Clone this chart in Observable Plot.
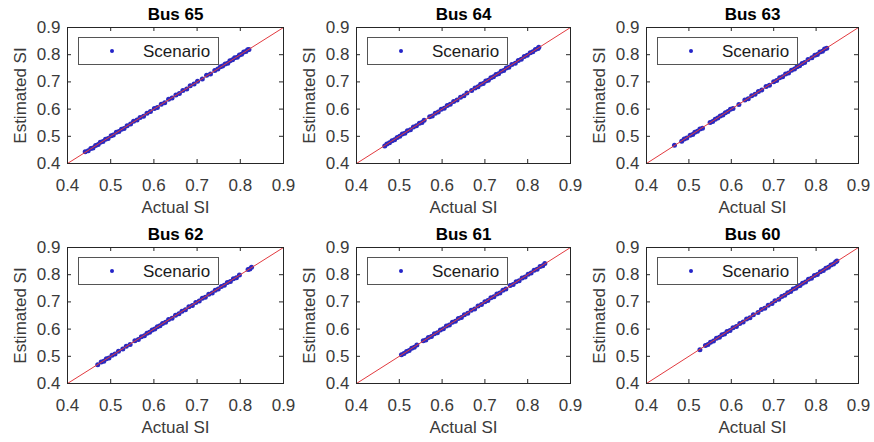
<!DOCTYPE html>
<html>
<head>
<meta charset="utf-8">
<script src="https://cdn.jsdelivr.net/npm/d3@7"></script>
<script src="https://cdn.jsdelivr.net/npm/@observablehq/plot@0.6"></script>
<style>
  body { margin: 0; background: #fff; }
  #root { position: relative; width: 874px; height: 442px; font-family: "Liberation Sans", Arial, sans-serif; overflow: hidden; }
  .panel { position: absolute; }
  .legend { position: absolute; box-sizing: border-box; border: 1px solid #555; background: #fff; }
  .legend .dot { position: absolute; width: 4px; height: 4px; border-radius: 50%; background: #2424c8; }
  .legend .lab { position: absolute; font-size: 17px; color: #1a1a1a; white-space: nowrap; line-height: 1; }
</style>
</head>
<body>
<div id="root"></div>
<script>
// ---------- data ----------
const titles = ["Bus 65", "Bus 64", "Bus 63", "Bus 62", "Bus 61", "Bus 60"];
const xTicks = [0.4, 0.5, 0.6, 0.7, 0.8, 0.9];
const yTicks = [0.4, 0.5, 0.6, 0.7, 0.8, 0.9];
const diagonal = [0.4, 0.9];
const legendLabel = "Scenario";
const xLabel = "Actual SI";
const yLabel = "Estimated SI";

// [actual, estimated]
const bus65 = [[0.441,0.443],[0.448,0.447],[0.454,0.455],[0.459,0.457],[0.465,0.466],[0.471,0.470],[0.476,0.478],[0.482,0.481],[0.488,0.489],[0.494,0.492],[0.501,0.502],[0.506,0.505],[0.513,0.515],[0.519,0.518],[0.525,0.526],[0.531,0.529],[0.538,0.539],[0.546,0.545],[0.553,0.555],[0.561,0.560],[0.568,0.569],[0.576,0.574],[0.584,0.585],[0.592,0.591],[0.601,0.602],[0.608,0.606],[0.617,0.618],[0.625,0.623],[0.634,0.636],[0.642,0.641],[0.651,0.652],[0.659,0.657],[0.667,0.668],[0.676,0.674],[0.684,0.686],[0.693,0.692],[0.701,0.702],[0.712,0.711],[0.722,0.724],[0.731,0.729],[0.741,0.742],[0.748,0.747],[0.754,0.756],[0.759,0.758],[0.765,0.766],[0.771,0.769],[0.776,0.778],[0.782,0.781],[0.787,0.789],[0.793,0.791],[0.798,0.799],[0.803,0.802],[0.808,0.810],[0.813,0.812],[0.817,0.818],[0.820,0.819]];
const bus64 = [[0.466,0.464],[0.471,0.472],[0.477,0.476],[0.483,0.484],[0.489,0.487],[0.495,0.496],[0.501,0.500],[0.507,0.508],[0.513,0.511],[0.519,0.520],[0.526,0.524],[0.533,0.534],[0.540,0.539],[0.547,0.548],[0.553,0.551],[0.558,0.559],[0.571,0.572],[0.577,0.575],[0.584,0.585],[0.591,0.589],[0.598,0.599],[0.605,0.603],[0.612,0.613],[0.619,0.618],[0.627,0.628],[0.635,0.633],[0.643,0.644],[0.651,0.649],[0.658,0.659],[0.669,0.668],[0.677,0.678],[0.684,0.682],[0.690,0.691],[0.696,0.694],[0.702,0.703],[0.708,0.706],[0.714,0.715],[0.720,0.719],[0.726,0.727],[0.732,0.730],[0.738,0.739],[0.744,0.742],[0.750,0.751],[0.756,0.754],[0.763,0.764],[0.771,0.769],[0.778,0.779],[0.785,0.783],[0.792,0.793],[0.799,0.798],[0.806,0.807],[0.812,0.811],[0.818,0.819],[0.824,0.823],[0.826,0.827]];
const bus63 = [[0.466,0.467],[0.483,0.482],[0.489,0.490],[0.495,0.494],[0.503,0.504],[0.509,0.507],[0.514,0.515],[0.520,0.519],[0.526,0.527],[0.532,0.530],[0.550,0.551],[0.556,0.554],[0.562,0.563],[0.568,0.567],[0.574,0.575],[0.580,0.578],[0.586,0.587],[0.592,0.591],[0.598,0.599],[0.604,0.602],[0.618,0.617],[0.632,0.633],[0.640,0.638],[0.648,0.649],[0.656,0.655],[0.664,0.665],[0.672,0.670],[0.682,0.683],[0.690,0.688],[0.700,0.701],[0.707,0.705],[0.714,0.715],[0.721,0.719],[0.728,0.729],[0.735,0.733],[0.742,0.743],[0.749,0.747],[0.755,0.756],[0.761,0.759],[0.767,0.768],[0.773,0.771],[0.781,0.782],[0.790,0.789],[0.797,0.798],[0.803,0.801],[0.809,0.810],[0.815,0.813],[0.820,0.821],[0.825,0.824]];
const bus62 = [[0.470,0.469],[0.478,0.479],[0.484,0.482],[0.490,0.491],[0.496,0.494],[0.503,0.504],[0.510,0.508],[0.518,0.519],[0.528,0.527],[0.536,0.537],[0.545,0.543],[0.556,0.557],[0.564,0.562],[0.571,0.572],[0.578,0.576],[0.584,0.585],[0.590,0.588],[0.596,0.597],[0.602,0.600],[0.608,0.609],[0.614,0.612],[0.620,0.621],[0.627,0.625],[0.634,0.635],[0.642,0.640],[0.650,0.651],[0.658,0.656],[0.665,0.666],[0.673,0.671],[0.681,0.682],[0.689,0.687],[0.697,0.698],[0.705,0.703],[0.712,0.713],[0.719,0.717],[0.727,0.728],[0.735,0.733],[0.742,0.743],[0.749,0.747],[0.756,0.757],[0.763,0.761],[0.770,0.771],[0.777,0.775],[0.784,0.785],[0.791,0.789],[0.798,0.799],[0.818,0.819],[0.822,0.821],[0.826,0.827]];
const bus61 = [[0.505,0.506],[0.511,0.510],[0.517,0.518],[0.523,0.521],[0.529,0.530],[0.535,0.533],[0.541,0.542],[0.556,0.557],[0.562,0.560],[0.568,0.569],[0.575,0.573],[0.582,0.583],[0.589,0.587],[0.596,0.597],[0.603,0.601],[0.610,0.611],[0.617,0.615],[0.624,0.625],[0.631,0.629],[0.638,0.639],[0.645,0.643],[0.652,0.653],[0.660,0.658],[0.668,0.669],[0.676,0.674],[0.684,0.685],[0.692,0.690],[0.700,0.701],[0.707,0.705],[0.714,0.715],[0.721,0.719],[0.728,0.729],[0.735,0.733],[0.742,0.743],[0.749,0.747],[0.759,0.760],[0.766,0.764],[0.773,0.774],[0.780,0.778],[0.787,0.788],[0.794,0.792],[0.801,0.802],[0.808,0.806],[0.815,0.816],[0.822,0.820],[0.829,0.830],[0.835,0.833],[0.840,0.841]];
const bus60 = [[0.526,0.524],[0.539,0.540],[0.545,0.543],[0.551,0.552],[0.558,0.556],[0.565,0.566],[0.572,0.570],[0.578,0.579],[0.584,0.582],[0.590,0.591],[0.597,0.595],[0.604,0.605],[0.612,0.610],[0.620,0.621],[0.628,0.626],[0.636,0.637],[0.644,0.642],[0.652,0.653],[0.663,0.661],[0.671,0.672],[0.679,0.677],[0.687,0.688],[0.696,0.694],[0.703,0.704],[0.712,0.710],[0.719,0.720],[0.726,0.724],[0.733,0.734],[0.740,0.738],[0.746,0.747],[0.752,0.750],[0.757,0.758],[0.762,0.760],[0.768,0.769],[0.775,0.773],[0.782,0.783],[0.789,0.787],[0.796,0.797],[0.803,0.801],[0.810,0.811],[0.817,0.815],[0.823,0.824],[0.829,0.827],[0.835,0.836],[0.841,0.839],[0.846,0.847],[0.849,0.850]];

const series = [bus65, bus64, bus63, bus62, bus61, bus60];

// ---------- layout ----------
const frameLefts = [67, 356, 646];
const frameRights = [283, 570, 858];
const frameTops = [27, 247];
const frameH = 136;
const ML = 67, SVG_W = 290, SVG_H = 220, MT = 27;

const root = document.getElementById("root");
const fmt = d3.format(".1f");
const ink = "#262626";
const txt = "#3a3a3a";

series.forEach((data, i) => {
  const col = i % 3, row = Math.floor(i / 3);
  const fw = frameRights[col] - frameLefts[col];
  const left = frameLefts[col] - ML;
  const top = frameTops[row] - MT;
  const MR = SVG_W - ML - fw;
  const MB = SVG_H - MT - frameH;

  const chart = Plot.plot({
    width: SVG_W,
    height: SVG_H,
    marginLeft: ML,
    marginRight: MR,
    marginTop: MT,
    marginBottom: MB,
    style: { fontFamily: '"Liberation Sans", Arial, sans-serif', background: "transparent", overflow: "visible" },
    x: { domain: [0.4, 0.9] },
    y: { domain: [0.4, 0.9] },
    marks: [
      Plot.dot(data, { x: d => d[0], y: d => d[1], r: 2.5, fill: "#2a2ac0", stroke: "none" }),
      Plot.line(diagonal, { x: d => d, y: d => d, stroke: "#e23a3f", strokeWidth: 1 }),
      Plot.frame({ stroke: ink, strokeWidth: 1 }),
      // inward ticks on all four sides
      Plot.tickX(xTicks, { x: d => d, insetTop: frameH - 4, stroke: ink }),
      Plot.tickX(xTicks, { x: d => d, insetBottom: frameH - 4, stroke: ink }),
      Plot.tickY(yTicks, { y: d => d, insetRight: fw - 4, stroke: ink }),
      Plot.tickY(yTicks, { y: d => d, insetLeft: fw - 4, stroke: ink }),
      Plot.axisX({ ticks: xTicks, tickSize: 0, tickPadding: 15, tickFormat: fmt, fontSize: 17, fill: txt, label: null }),
      Plot.axisY({ ticks: yTicks, tickSize: 0, tickPadding: 7, tickFormat: fmt, fontSize: 17, fill: txt, label: null }),
      Plot.text([titles[i]], { text: d => d, frameAnchor: "top", lineAnchor: "middle", textAnchor: "middle", dy: -13, fontSize: 17, fontWeight: "bold", fill: "#000" }),
      Plot.text([xLabel], { text: d => d, frameAnchor: "bottom", lineAnchor: "middle", textAnchor: "middle", dy: 44, fontSize: 17, fill: txt }),
      Plot.text([yLabel], { text: d => d, frameAnchor: "left", lineAnchor: "middle", textAnchor: "middle", dx: -47, rotate: -90, fontSize: 17, fill: txt })
    ]
  });

  const wrap = document.createElement("div");
  wrap.className = "panel";
  wrap.style.left = left + "px";
  wrap.style.top = top + "px";
  wrap.appendChild(chart);

  const leg = document.createElement("div");
  leg.className = "legend";
  leg.style.left = (ML + 11) + "px";
  leg.style.top = (MT + 10) + "px";
  leg.style.width = "141px";
  leg.style.height = "28px";
  const dot = document.createElement("div");
  dot.className = "dot";
  dot.style.left = "31px";
  dot.style.top = "11px";
  const lab = document.createElement("div");
  lab.className = "lab";
  lab.textContent = legendLabel;
  lab.style.left = "64px";
  lab.style.top = "5px";
  leg.appendChild(dot);
  leg.appendChild(lab);
  wrap.appendChild(leg);

  root.appendChild(wrap);
});
</script>
</body>
</html>
